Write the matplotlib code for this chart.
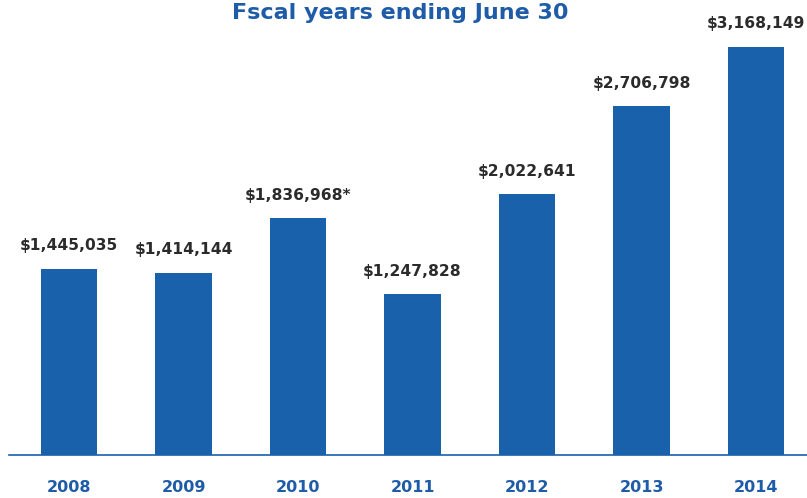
import numpy as np
import matplotlib.pyplot as plt

years = ['2008', '2009', '2010', '2011', '2012', '2013', '2014']
values = [1445035, 1414144, 1836968, 1247828, 2022641, 2706798, 3168149]
labels = ['$1,445,035', '$1,414,144', '$1,836,968*', '$1,247,828',
          '$2,022,641', '$2,706,798', '$3,168,149']

bar_color = '#1a61ab'
text_blue = '#1f5ca8'

fig = plt.figure(figsize=(8.07, 4.98), dpi=100)
ax = fig.add_axes([9 / 807, 43 / 498, 798 / 807, 455 / 498])

x = np.arange(len(years))
ax.bar(x, values, width=0.49, color=bar_color)
ax.set_xlim(-0.524, 6.445)
ax.set_ylim(0, 3.53e6)

for xi, v, lab in zip(x, values, labels):
    ax.annotate(lab, (xi, v), xytext=(0, 11), textcoords='offset points',
                ha='center', va='bottom', fontsize=11.2, fontweight='bold',
                color='#2b2b2b')

ax.set_xticks(x)
ax.set_xticklabels(years, fontsize=11.5, fontweight='bold', color=text_blue)
ax.tick_params(axis='x', length=0, pad=18)
ax.set_yticks([])
for s in ['top', 'right', 'left']:
    ax.spines[s].set_visible(False)
ax.spines['bottom'].set_color(bar_color)
ax.spines['bottom'].set_linewidth(1.2)

fig.text(400 / 807, 1 - 13 / 498, 'Fscal years ending June 30', ha='center',
         va='center', fontsize=16, fontweight='bold', color=text_blue)

fig.savefig('out.png', dpi=100)
